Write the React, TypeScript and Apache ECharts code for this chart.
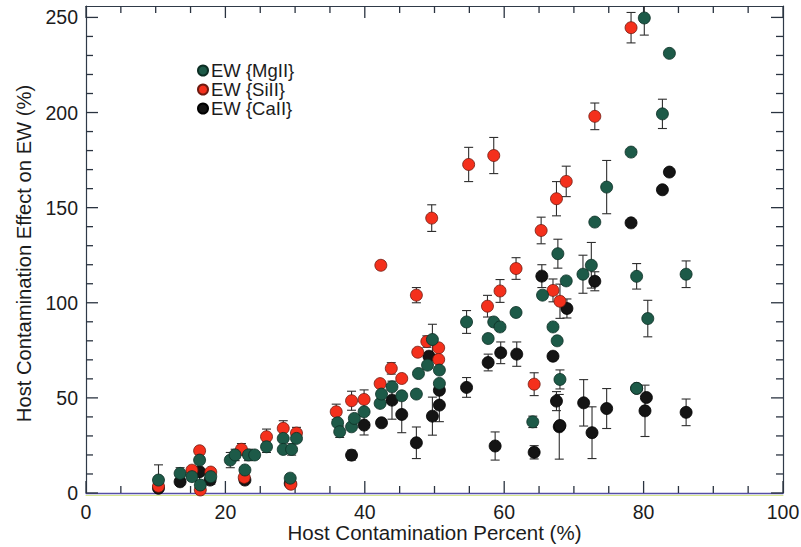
import React, { useEffect, useRef } from "react";
import * as echarts from "echarts";

// ---- data ----
const seriesNames = ["EW {MgII}", "EW {SiII}", "EW {CaII}"];
const xMajorTicks = [0, 20, 40, 60, 80, 100];
const xMinorTicks = [5, 10, 15, 25, 30, 35, 45, 50, 55, 65, 70, 75, 85, 90, 95];
const yMajorTicks = [0, 50, 100, 150, 200, 250];
const yMinorTicks = [10, 20, 30, 40, 60, 70, 80, 90, 110, 120, 130, 140, 160, 170, 180, 190, 210, 220, 230, 240];
const X_MAX = 100;
const Y_MAX = 256;

// [host contamination %, effect on EW %, error (0 = none)]
const mgII = [
  [10.4, 6.8, 8], [13.5, 10.3, 3], [15.2, 8.6, 0], [16.3, 17.3, 0], [16.4, 4.2, 0],
  [17.9, 8.6, 4], [20.7, 17.3, 4], [21.4, 20.0, 3], [22.8, 12.1, 0], [23.3, 20.0, 3],
  [24.2, 20.0, 0], [25.9, 24.3, 3], [28.3, 28.7, 0], [28.3, 22.9, 0], [29.3, 7.8, 0],
  [29.5, 22.9, 3], [30.2, 28.7, 0],
  [36.1, 36.9, 0], [36.4, 32.2, 3], [38.1, 34.8, 0], [38.5, 39.2, 0], [39.9, 42.7, 0],
  [42.2, 47.1, 0], [42.4, 52.0, 0], [43.9, 55.8, 0], [45.3, 51.1, 0], [47.4, 52.0, 0],
  [47.7, 62.8, 0], [49.0, 67.2, 0], [49.7, 80.7, 8], [50.7, 64.6, 0], [50.7, 57.6, 0],
  [54.6, 89.9, 6], [57.7, 81.2, 0], [58.5, 89.9, 0], [59.4, 87.3, 0], [61.7, 94.9, 0],
  [64.1, 37.4, 3], [65.5, 104.0, 0], [67.0, 87.3, 0], [67.6, 80.0, 0], [67.7, 125.8, 7.6],
  [68.0, 59.7, 5], [68.9, 111.5, 0], [71.3, 115.0, 10], [72.5, 119.7, 12], [73.0, 142.4, 0],
  [74.7, 160.8, 14], [78.2, 179.2, 0], [79.0, 113.9, 6.7], [79.0, 55.0, 0], [80.1, 249.7, 9],
  [80.6, 91.7, 9.6], [82.7, 199.3, 7.7], [83.7, 231.1, 0], [86.1, 115.0, 7],
];

const siII = [
  [10.4, 3.5, 0], [15.2, 12.0, 0], [16.3, 22.2, 2], [16.4, 1.6, 0], [17.9, 11.0, 0],
  [22.3, 23.0, 3], [22.7, 8.2, 0], [25.9, 29.6, 4], [28.3, 34.0, 4], [29.4, 4.6, 0],
  [30.2, 31.5, 3], [35.9, 42.7, 4], [38.1, 48.5, 5], [39.9, 49.2, 5], [42.2, 57.5, 0],
  [42.3, 119.7, 2], [43.8, 65.5, 3], [45.3, 60.2, 0], [47.4, 104.0, 4], [47.6, 74.0, 0],
  [48.9, 79.6, 3], [49.6, 144.5, 7], [50.6, 76.3, 0], [50.6, 70.2, 0], [54.9, 172.7, 9],
  [57.6, 98.2, 5.7], [58.5, 177.4, 9.5], [59.4, 106.2, 6], [61.7, 118.0, 5.7], [64.3, 57.2, 6],
  [65.3, 138.0, 7], [67.0, 106.5, 6], [67.5, 154.7, 9], [68.0, 100.8, 9], [68.9, 163.8, 8],
  [73.0, 198.0, 7], [78.2, 244.6, 8],
];

const caII = [
  [10.4, 2.5, 0], [13.5, 5.9, 0], [16.3, 11.2, 8], [17.8, 6.8, 0], [22.8, 6.8, 0],
  [29.3, 5.1, 0], [38.1, 19.9, 2.6], [39.9, 35.7, 5.2], [42.4, 36.9, 0], [43.9, 48.8, 10],
  [45.3, 41.3, 9.6], [47.4, 26.4, 8.3], [49.2, 71.9, 0], [49.7, 40.4, 10], [50.7, 54.0, 0],
  [50.7, 46.2, 8.7], [54.6, 55.5, 5.2], [57.7, 68.6, 4.4], [58.7, 24.7, 7.4], [59.5, 73.7, 5.7],
  [61.8, 73.0, 6.4], [64.3, 21.4, 3.5], [65.4, 114.0, 6], [67.0, 71.9, 0], [67.5, 48.3, 5],
  [67.9, 34.8, 17], [68.0, 35.5, 0], [69.0, 97.0, 5], [71.4, 47.4, 12.2], [72.6, 31.7, 13.6],
  [73.0, 111.3, 5], [74.7, 44.4, 10.5], [78.2, 142.0, 0], [79.0, 55.0, 0], [80.4, 50.2, 0],
  [80.2, 43.2, 13.5], [82.7, 159.4, 0], [83.7, 168.7, 0], [86.1, 42.4, 7],
];

const FONT = "'Liberation Sans', Arial, Helvetica, sans-serif";

function errData(arr: number[][]) {
  return arr.filter((d) => d[2] > 0).map((d) => [d[0], d[1] - d[2], d[1] + d[2]]);
}

function errRender(_params: any, api: any) {
  const x = api.value(0);
  const lo = api.value(1);
  const hi = api.value(2);
  const p1 = api.coord([x, hi]);
  const p2 = api.coord([x, lo]);
  const cap = 4.5;
  const style = { stroke: "#2e2e2e", lineWidth: 1.1 };
  return {
    type: "group",
    children: [
      { type: "line", shape: { x1: p1[0], y1: p1[1], x2: p2[0], y2: p2[1] }, style },
      { type: "line", shape: { x1: p1[0] - cap, y1: p1[1], x2: p1[0] + cap, y2: p1[1] }, style },
      { type: "line", shape: { x1: p2[0] - cap, y1: p2[1], x2: p2[0] + cap, y2: p2[1] }, style },
    ],
  };
}

// tick items: [kind (0 = x tick, 1 = y tick), value, length in px]
const tickItems = [
  ...xMajorTicks.map((v) => [0, v, 12]),
  ...xMinorTicks.map((v) => [0, v, 7]),
  ...yMajorTicks.map((v) => [1, v, 12]),
  ...yMinorTicks.map((v) => [1, v, 7]),
];

function tickRender(_params: any, api: any) {
  const kind = api.value(0);
  const v = api.value(1);
  const len = api.value(2);
  const style = { stroke: "#2a3340", lineWidth: 1.3 };
  if (kind === 0) {
    const b = api.coord([v, 0]);
    const t = api.coord([v, Y_MAX]);
    return {
      type: "group",
      children: [
        { type: "line", shape: { x1: b[0], y1: b[1], x2: b[0], y2: b[1] - len }, style },
        { type: "line", shape: { x1: t[0], y1: t[1], x2: t[0], y2: t[1] + len }, style },
      ],
    };
  }
  const l = api.coord([0, v]);
  const r = api.coord([X_MAX, v]);
  return {
    type: "group",
    children: [
      { type: "line", shape: { x1: l[0], y1: l[1], x2: l[0] + len, y2: l[1] }, style },
      { type: "line", shape: { x1: r[0], y1: r[1], x2: r[0] - len, y2: r[1] }, style },
    ],
  };
}

export default function App() {
  const ref = useRef<HTMLDivElement>(null);
  useEffect(() => {
    if (!ref.current) return;
    const chart = echarts.init(ref.current, null, { renderer: "svg" });
    const axisColor = "#2f3a48";
    const labelStyle = () => ({ color: "#1c1c1c", fontSize: 19.5, fontFamily: FONT, lineHeight: 19 });
    const pointSeries = (name: string, arr: number[][], color: string, border: string, z: number) => ({
      name,
      type: "scatter",
      data: arr.map((d) => [d[0], d[1]]),
      symbol: "circle",
      symbolSize: 12,
      itemStyle: { color, borderColor: border, borderWidth: 0.8, opacity: 1 },
      z,
    });
    const errSeries = (arr: number[][]) => ({
      type: "custom",
      renderItem: errRender,
      data: errData(arr),
      encode: { x: 0, y: [1, 2] },
      clip: true,
      z: 2,
      silent: true,
    });
    chart.setOption({
      animation: false,
      backgroundColor: "#ffffff",
      grid: { left: 86, right: 18, top: 6, bottom: 54, containLabel: false, outerBoundsMode: "none" },
      legend: {
        data: seriesNames,
        orient: "vertical",
        left: 197,
        top: 61,
        icon: "circle",
        itemWidth: 10,
        itemHeight: 10,
        itemGap: 0,
        padding: 0,
        textStyle: { fontSize: 18.5, lineHeight: 18, fontFamily: FONT, color: "#1c1c1c", padding: [0, 0, 0, -2] },
      },
      xAxis: [
        {
          type: "value",
          position: "bottom",
          min: xMajorTicks[0],
          max: X_MAX,
          interval: 20,
          name: "Host Contamination Percent (%)",
          nameLocation: "middle",
          nameGap: 29,
          nameMoveOverlap: false,
          nameTextStyle: { fontSize: 20.5, lineHeight: 20, fontFamily: FONT, color: "#1c1c1c", verticalAlign: "top" },
          axisLine: { show: true, onZero: false, lineStyle: { color: "#554fa6", width: 1.4 } },
          axisTick: { show: false },
          minorTick: { show: false },
          axisLabel: { ...labelStyle(), margin: 9 },
          splitLine: { show: false },
        },
        {
          type: "value",
          position: "top",
          min: 0,
          max: X_MAX,
          interval: 20,
          axisLine: { show: true, onZero: false, lineStyle: { color: axisColor, width: 1.2 } },
          axisTick: { show: false },
          axisLabel: { show: false },
          splitLine: { show: false },
        },
        {
          type: "value",
          position: "bottom",
          offset: 2,
          min: 0,
          max: X_MAX,
          axisLine: { show: true, onZero: false, lineStyle: { color: "#d6e78e", width: 1 } },
          axisTick: { show: false },
          axisLabel: { show: false },
          splitLine: { show: false },
        },
      ],
      yAxis: [
        {
          type: "value",
          min: 0,
          max: Y_MAX,
          position: "left",
          name: "Host Contamination Effect on EW (%)",
          nameLocation: "middle",
          nameGap: 52,
          nameRotate: 90,
          nameMoveOverlap: false,
          nameTextStyle: { fontSize: 20.2, fontFamily: FONT, color: "#1c1c1c", padding: [0, 8, 0, 0] },
          axisLine: { show: true, onZero: false, lineStyle: { color: axisColor, width: 1.2 } },
          axisTick: { show: false },
          axisLabel: { ...labelStyle(), margin: 8, customValues: yMajorTicks },
          splitLine: { show: false },
        },
        {
          type: "value",
          min: 0,
          max: Y_MAX,
          position: "right",
          axisLine: { show: true, onZero: false, lineStyle: { color: axisColor, width: 1.2 } },
          axisTick: { show: false },
          axisLabel: { show: false },
          splitLine: { show: false },
        },
      ],
      series: [
        {
          type: "custom",
          renderItem: tickRender,
          data: tickItems,
          encode: { x: 1, y: 1 },
          clip: false,
          silent: true,
          z: 1,
        },
        errSeries(caII),
        errSeries(siII),
        errSeries(mgII),
        pointSeries(seriesNames[2], caII, "#141414", "#000000", 3),
        pointSeries(seriesNames[1], siII, "#f4301c", "#6e1a10", 4),
        pointSeries(seriesNames[0], mgII, "#1d5a48", "#0c2e24", 5),
      ],
    });
    return () => chart.dispose();
  }, []);
  return (
    <div
      ref={ref}
      style={{ position: "fixed", left: 0, top: 0, width: 801, height: 547, background: "#fff" }}
    />
  );
}
